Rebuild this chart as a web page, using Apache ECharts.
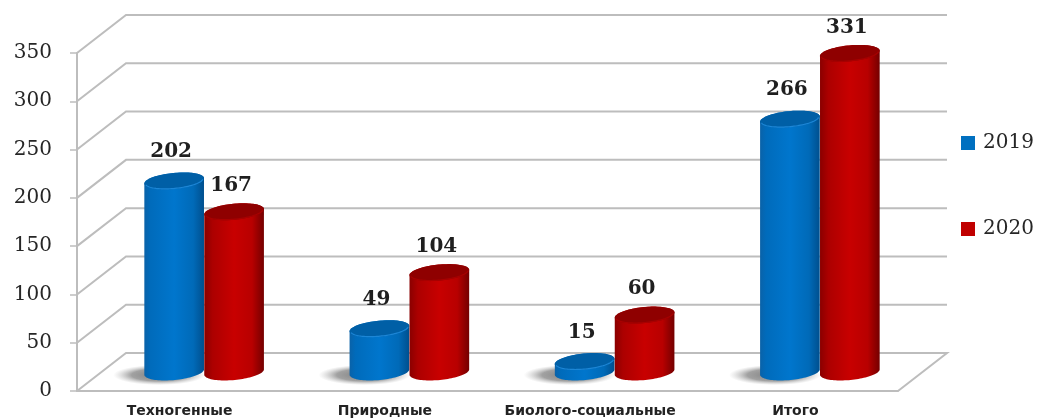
<!DOCTYPE html>
<html>
<head>
<meta charset="utf-8">
<style>
  html, body { margin: 0; padding: 0; background: #fff; }
  #chart { width: 1038px; height: 418px; filter: blur(0.45px); }
</style>
<script src="https://cdn.jsdelivr.net/npm/echarts@6/dist/echarts.min.js"></script>
</head>
<body>
<div id="chart"></div>
<script>
var categories = ['Техногенные', 'Природные', 'Биолого-социальные', 'Итого']
var values2019 = [202, 49, 15, 266]
var values2020 = [167, 104, 60, 331]
var wallTicks = [0, 50, 100, 150, 200, 250, 300, 350]

// depth of the fake 3d box, px
var depthX = 49
var depthY = 38
var lineColor = '#bdbdbd'
var tilt = -5.5 * Math.PI / 180

function hGrad(stops) {
  return new echarts.graphic.LinearGradient(0, 0, 1, 0, stops)
}

var blueBody = hGrad([
  { offset: 0, color: '#0a62a8' },
  { offset: 0.1, color: '#006bbb' },
  { offset: 0.5, color: '#0076cd' },
  { offset: 0.82, color: '#006ab8' },
  { offset: 1, color: '#004f8e' }
])
var redBody = hGrad([
  { offset: 0, color: '#8a0000' },
  { offset: 0.14, color: '#ac0000' },
  { offset: 0.5, color: '#c80000' },
  { offset: 0.8, color: '#b80000' },
  { offset: 1, color: '#740000' }
])

// point on the tilted ellipse
function ellipsePoint(cx, cy, rx, ry, t) {
  var x = rx * Math.cos(t)
  var y = ry * Math.sin(t)
  return [cx + x * Math.cos(tilt) - y * Math.sin(tilt), cy + x * Math.sin(tilt) + y * Math.cos(tilt)]
}

function ellipseArc(cx, cy, rx, ry, from, to) {
  var pts = []
  for (var i = 0; i <= 48; i++) {
    pts.push(ellipsePoint(cx, cy, rx, ry, from + (to - from) * i / 48))
  }
  return pts
}

function cylinderItem(side, body, topFill, rimColor, topShift, withShadow) {
  return function(params, api) {
    var idx = api.value(0)
    var val = api.value(1)
    var band = api.size([1, 0])[0]
    var rx = band * 0.146
    var ry = 8
    var cx = api.coord([idx, 0])[0] + depthX / 2 + side * rx
    var base = api.coord([idx, 0])[1] - depthY / 2
    var labelY = api.coord([idx, val])[1] - depthY / 2 - 25
    // the front cylinder's top sits a little lower in this perspective
    var top = api.coord([idx, val])[1] - depthY / 2 + topShift
    var children = []
    if (withShadow) {
      // circle squashed into a soft floor shadow
      children.push({
        type: 'circle',
        x: cx - 15,
        y: base + 3,
        scaleY: 0.22,
        shape: { cx: 0, cy: 0, r: 46 },
        style: {
          fill: new echarts.graphic.RadialGradient(0.5, 0.5, 0.5, [
            { offset: 0, color: 'rgba(110,110,110,0.9)' },
            { offset: 0.6, color: 'rgba(130,130,130,0.75)' },
            { offset: 1, color: 'rgba(180,180,180,0)' }
          ])
        }
      })
    }
    // side of the cylinder: upper edge is the top ellipse's back half, lower edge the base's front half
    var outline = ellipseArc(cx, top, rx, ry, Math.PI, 2 * Math.PI)
      .concat(ellipseArc(cx, base, rx, ry, 0, Math.PI))
    children.push({ type: 'polygon', shape: { points: outline }, style: { fill: body } })
    children.push({
      type: 'polygon',
      shape: { points: ellipseArc(cx, top, rx, ry, 0, 2 * Math.PI) },
      style: { fill: topFill }
    })
    // light rim on the near edge of the top
    children.push({
      type: 'polyline',
      shape: { points: ellipseArc(cx, top, rx - 1, ry - 0.5, 0.15, Math.PI - 0.15) },
      style: { fill: 'none', stroke: rimColor, lineWidth: 1.2 }
    })
    children.push({
      type: 'text',
      style: {
        x: cx - 3,
        y: labelY,
        text: String(val),
        align: 'center',
        verticalAlign: 'middle',
        fill: '#1f1f1f',
        font: 'bold 20px "DejaVu Serif"'
      }
    })
    return { type: 'group', children: children }
  }
}

function wallItem(params, api) {
  var v = api.value(0)
  var box = params.coordSys
  var y = api.coord([0, v])[1]
  var style = { fill: 'none', stroke: lineColor, lineWidth: 2 }
  var pts = [[box.x, y], [box.x + depthX, y - depthY], [box.x + box.width + depthX, y - depthY]]
  if (v === 0) {
    pts.push([box.x + box.width, y])
  }
  return { type: 'polyline', shape: { points: pts }, style: style, silent: true }
}

var chart = echarts.init(document.getElementById('chart'))
chart.setOption({
  animation: false,
  backgroundColor: '#fff',
  grid: { left: 77, right: 140, top: 53, bottom: 27 },
  legend: {
    data: ['2019', '2020'],
    orient: 'vertical',
    left: 961,
    top: 133,
    padding: 0,
    itemWidth: 14,
    itemHeight: 14,
    itemGap: 66,
    icon: 'rect',
    textStyle: { fontFamily: 'DejaVu Serif', fontSize: 20, color: '#262626', padding: [0, 0, 0, 3] },
    selectedMode: false
  },
  xAxis: {
    type: 'category',
    data: categories,
    axisLine: { lineStyle: { color: lineColor, width: 2 } },
    axisTick: { length: 6, lineStyle: { color: lineColor, width: 1.5 } },
    axisLabel: { interval: 0, margin: 13, fontFamily: 'DejaVu Sans', fontWeight: 'bold', fontSize: 14, color: '#222' }
  },
  yAxis: {
    type: 'value',
    min: 0,
    max: 350,
    interval: 50,
    splitLine: { show: false },
    axisLine: { show: true, lineStyle: { color: lineColor, width: 2 } },
    axisTick: { show: true, length: 7, lineStyle: { color: lineColor, width: 1.5 } },
    axisLabel: { margin: 25, padding: [6, 0, 0, 0], fontFamily: 'DejaVu Serif', fontSize: 20, color: '#262626' }
  },
  series: [
    {
      name: 'walls',
      type: 'custom',
      silent: true,
      data: wallTicks.map(function(v) { return [v] }),
      encode: { y: 0 },
      renderItem: wallItem,
      z: 1
    },
    {
      name: '2019',
      type: 'custom',
      itemStyle: { color: '#0070c0' },
      data: values2019.map(function(v, i) { return [i, v] }),
      encode: { x: 0, y: 1 },
      renderItem: cylinderItem(-1, blueBody, '#005fa6', '#1c86d6', 4, true),
      z: 2
    },
    {
      name: '2020',
      type: 'custom',
      itemStyle: { color: '#c00000' },
      data: values2020.map(function(v, i) { return [i, v] }),
      encode: { x: 0, y: 1 },
      renderItem: cylinderItem(1, redBody, '#8f0000', '#a80000', 1, false),
      z: 3
    }
  ]
})
</script>
</body>
</html>
